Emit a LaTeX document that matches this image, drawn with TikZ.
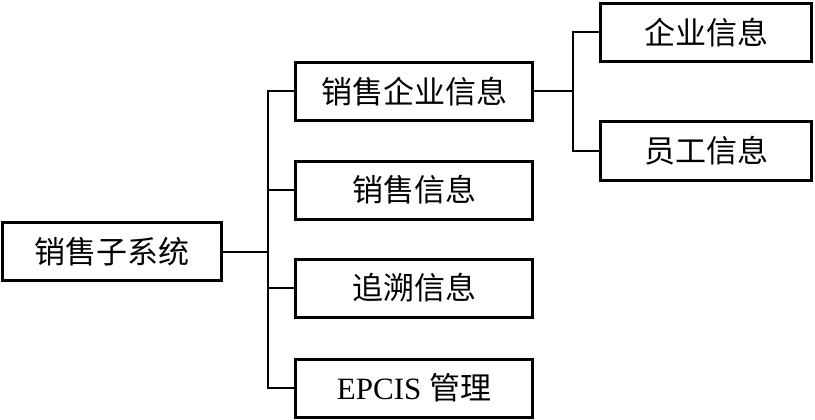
\documentclass[tikz,border=0pt]{standalone}
\usepackage{fontspec}
\setmainfont{Liberation Serif}
\newfontfamily\cjk{Noto Sans CJK SC}
\begin{document}
\begin{tikzpicture}[x=1pt,y=-1pt,
  box/.style={draw=black,line width=3pt,fill=white,minimum height=58pt,inner sep=0pt,font=\fontsize{31}{34}\selectfont\cjk},
  rootbox/.style={box,minimum width=219pt},
  midbox/.style={box,minimum width=237pt},
  rightbox/.style={box,minimum width=211pt},
  conn/.style={draw=black,line width=2pt}]
\useasboundingbox (0,0) rectangle (815,420);
\node[rootbox] (root) at (112,251.5) {销售子系统};
\node[midbox] (m1) at (414,91.5) {销售企业信息};
\node[midbox] (m2) at (414,190) {销售信息};
\node[midbox] (m3) at (414,288) {追溯信息};
\node[midbox] (m4) at (414,388) {\fontsize{31}{34}\rmfamily EPCIS {\cjk 管理}};
\node[rightbox] (r1) at (706,32.5) {企业信息};
\node[rightbox] (r2) at (706,151) {员工信息};
\coordinate (t) at (268,0);
\coordinate (s) at (573,0);
\draw[conn] (m1.west) -- (m1.west -| t) -- (m4.west -| t) -- (m4.west);
\draw[conn] (m2.west) -- (m2.west -| t);
\draw[conn] (m3.west) -- (m3.west -| t);
\draw[conn] (root.east) -- (root.east -| t);
\draw[conn] (m1.east) -- (m1.east -| s);
\draw[conn] (r1.west) -- (r1.west -| s) -- (r2.west -| s) -- (r2.west);
\end{tikzpicture}
\end{document}
